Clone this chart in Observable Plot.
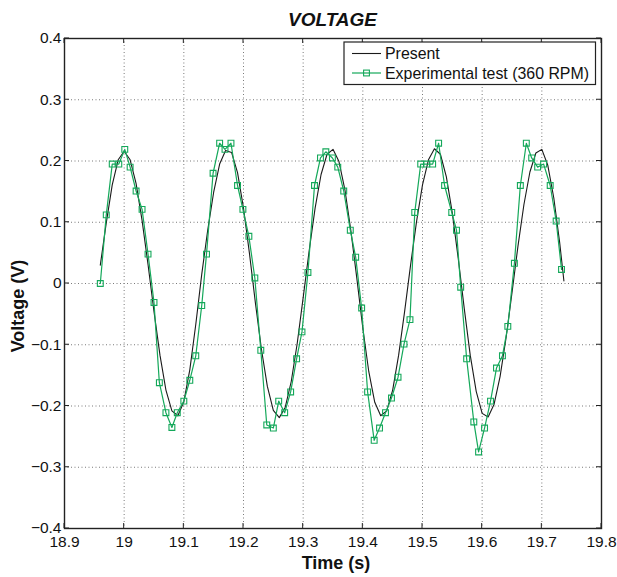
<!DOCTYPE html>
<html>
<head>
<meta charset="utf-8">
<script src="https://cdn.jsdelivr.net/npm/d3@7"></script>
<script src="https://cdn.jsdelivr.net/npm/@observablehq/plot@0.6"></script>
<style>
  html, body { margin: 0; padding: 0; background: #fff; }
  svg { font-family: "Liberation Sans", Arial, Helvetica, sans-serif; }
</style>
</head>
<body>
<div id="chart"></div>
<script>
// ---- tick definitions ----
const xTicks = [18.9, 19.0, 19.1, 19.2, 19.3, 19.4, 19.5, 19.6, 19.7, 19.8];
const xTickLabels = ["18.9", "19", "19.1", "19.2", "19.3", "19.4", "19.5", "19.6", "19.7", "19.8"];
const yTicks = [-0.4, -0.3, -0.2, -0.1, 0, 0.1, 0.2, 0.3, 0.4];
const yTickLabels = ["\u22120.4", "\u22120.3", "\u22120.2", "\u22120.1", "0", "0.1", "0.2", "0.3", "0.4"];

// ---- texts ----
const titleText = "VOLTAGE";
const xLabel = "Time (s)";
const yLabel = "Voltage (V)";
const seriesNames = ["Present", "Experimental test (360 RPM)"];

// ---- series: Present (model) ----
const presentTime = [18.96, 18.97, 18.98, 18.99, 19.00, 19.01, 19.02, 19.03, 19.04, 19.05,
  19.06, 19.07, 19.08, 19.09, 19.10, 19.11, 19.12, 19.13, 19.14, 19.15,
  19.16, 19.17, 19.18, 19.19, 19.20, 19.21, 19.22, 19.23, 19.24, 19.25,
  19.26, 19.27, 19.28, 19.29, 19.30, 19.31, 19.32, 19.33, 19.34, 19.35,
  19.36, 19.37, 19.38, 19.39, 19.40, 19.41, 19.42, 19.43, 19.44, 19.45,
  19.46, 19.47, 19.48, 19.49, 19.50, 19.51, 19.52, 19.53, 19.54, 19.55,
  19.56, 19.57, 19.58, 19.59, 19.60, 19.61, 19.62, 19.63, 19.64, 19.65,
  19.66, 19.67, 19.68, 19.69, 19.70, 19.71, 19.72, 19.73, 19.737];
const presentVoltage = [0.030, 0.099, 0.161, 0.202, 0.216, 0.202, 0.163, 0.103, 0.031, -0.046,
  -0.117, -0.174, -0.208, -0.216, -0.193, -0.141, -0.067, 0.015, 0.087, 0.149,
  0.195, 0.217, 0.214, 0.181, 0.123, 0.049, -0.032, -0.107, -0.168, -0.207,
  -0.219, -0.202, -0.160, -0.098, -0.023, 0.053, 0.123, 0.178, 0.211, 0.219,
  0.199, 0.153, 0.086, 0.008, -0.073, -0.144, -0.194, -0.216, -0.208, -0.174,
  -0.117, -0.046, 0.030, 0.101, 0.161, 0.202, 0.220, 0.211, 0.174, 0.115,
  0.040, -0.041, -0.117, -0.176, -0.212, -0.218, -0.197, -0.152, -0.089, -0.015,
  0.061, 0.129, 0.182, 0.213, 0.219, 0.193, 0.140, 0.066, 0.004];

// ---- series: Experimental test (360 RPM) ----
const expTime = [18.960, 18.970, 18.980, 18.991, 19.001, 19.010, 19.020, 19.030, 19.040, 19.050,
  19.059, 19.070, 19.080, 19.089, 19.100, 19.110, 19.120, 19.130, 19.138, 19.149,
  19.160, 19.169, 19.179, 19.190, 19.199, 19.209, 19.219, 19.229, 19.239, 19.250,
  19.259, 19.269, 19.279, 19.289, 19.298, 19.308, 19.319, 19.329, 19.338, 19.349,
  19.358, 19.368, 19.379, 19.388, 19.398, 19.408, 19.419, 19.428, 19.438, 19.448,
  19.459, 19.469, 19.479, 19.487, 19.497, 19.507, 19.517, 19.527, 19.537, 19.549,
  19.557, 19.564, 19.574, 19.586, 19.594, 19.604, 19.614, 19.624, 19.634, 19.643,
  19.654, 19.664, 19.674, 19.683, 19.693, 19.703, 19.714, 19.724, 19.733];
const expVoltage = [0.000, 0.112, 0.195, 0.195, 0.219, 0.190, 0.151, 0.121, 0.048, -0.031,
  -0.162, -0.211, -0.235, -0.211, -0.192, -0.158, -0.118, -0.036, 0.048, 0.180,
  0.229, 0.219, 0.229, 0.160, 0.121, 0.077, 0.009, -0.109, -0.231, -0.236,
  -0.192, -0.211, -0.177, -0.123, -0.079, 0.018, 0.160, 0.205, 0.215, 0.205,
  0.190, 0.151, 0.087, 0.043, -0.040, -0.177, -0.256, -0.236, -0.211, -0.187,
  -0.153, -0.099, -0.059, 0.116, 0.195, 0.195, 0.195, 0.229, 0.160, 0.116,
  0.087, -0.006, -0.123, -0.226, -0.275, -0.236, -0.192, -0.138, -0.118, -0.070,
  0.033, 0.160, 0.229, 0.205, 0.190, 0.195, 0.160, 0.102, 0.023];

// ---- build tables ----
const present = presentTime.map((t, i) => ({t, v: presentVoltage[i]}));
const experimental = expTime.map((t, i) => ({t, v: expVoltage[i]}));

const green = "#14a85a";
const black = "#1a1a1a";
const W = 617, H = 577;
const mL = 64, mR = 16, mT = 38, mB = 49;

const plot = Plot.plot({
  width: W,
  height: H,
  marginLeft: mL,
  marginRight: mR,
  marginTop: mT,
  marginBottom: mB,
  style: {background: "#fff", fontFamily: "'Liberation Sans', Arial, sans-serif", fontSize: "15.5px", color: "#111"},
  x: {domain: [18.9, 19.8], label: null},
  y: {domain: [-0.4, 0.4], label: null},
  marks: [
    Plot.gridX(xTicks.slice(1, -1), {stroke: "#7a7a7a", strokeOpacity: 1, strokeWidth: 1, strokeDasharray: "1,2.5"}),
    Plot.gridY(yTicks.slice(1, -1), {stroke: "#7a7a7a", strokeOpacity: 1, strokeWidth: 1, strokeDasharray: "1,2.5"}),
    Plot.axisX(xTicks, {anchor: "bottom", tickSize: 0, tickPadding: 7, fontSize: 15.5, tickFormat: d => xTickLabels[xTicks.indexOf(d)], label: null}),
    Plot.axisY(yTicks, {anchor: "left", tickSize: 0, tickPadding: 3, fontSize: 15.5, tickFormat: d => yTickLabels[yTicks.indexOf(d)], label: null}),
    Plot.line(present, {x: "t", y: "v", stroke: black, strokeWidth: 1.1}),
    Plot.line(experimental, {x: "t", y: "v", stroke: green, strokeWidth: 1.2}),
    Plot.dot(experimental, {x: "t", y: "v", symbol: "square", r: 3.3, stroke: green, strokeWidth: 1.1, fill: "none"}),
    Plot.frame({stroke: "#222", strokeWidth: 1.4})
  ]
});

document.getElementById("chart").appendChild(plot);

// ---- decorations via the plot's own scales ----
const sx = plot.scale("x"), sy = plot.scale("y");
const svg = d3.select(plot);
const x0 = sx.apply(18.9), x1 = sx.apply(19.8);
const y0 = sy.apply(-0.4), y1 = sy.apply(0.4);
const tl = 5;
const tg = svg.append("g").attr("stroke", "#222").attr("stroke-width", 1);
xTicks.forEach(v => {
  const px = sx.apply(v);
  tg.append("line").attr("x1", px).attr("x2", px).attr("y1", y0).attr("y2", y0 - tl);
  tg.append("line").attr("x1", px).attr("x2", px).attr("y1", y1).attr("y2", y1 + tl);
});
yTicks.forEach(v => {
  const py = sy.apply(v);
  tg.append("line").attr("y1", py).attr("y2", py).attr("x1", x0).attr("x2", x0 + tl);
  tg.append("line").attr("y1", py).attr("y2", py).attr("x1", x1).attr("x2", x1 - tl);
});

// title
svg.append("text").attr("x", (x0 + x1) / 2).attr("y", 26).attr("text-anchor", "middle")
  .attr("font-size", 19).attr("font-weight", "bold").attr("font-style", "italic").attr("fill", "#111")
  .text(titleText);
// x label
svg.append("text").attr("x", 336).attr("y", 569).attr("text-anchor", "middle")
  .attr("font-size", 18).attr("font-weight", "bold").attr("fill", "#111").text(xLabel);
// y label
svg.append("text").attr("transform", `translate(24,306) rotate(-90)`).attr("text-anchor", "middle")
  .attr("font-size", 18).attr("font-weight", "bold").attr("fill", "#111").text(yLabel);

// legend
const lg = svg.append("g").attr("text-anchor", "start");
lg.append("rect").attr("x", 344).attr("y", 42).attr("width", 251.5).attr("height", 42.5)
  .attr("fill", "#fff").attr("stroke", "#222").attr("stroke-width", 1.2);
lg.append("line").attr("x1", 352).attr("x2", 381).attr("y1", 53.5).attr("y2", 53.5)
  .attr("stroke", black).attr("stroke-width", 1.1);
lg.append("line").attr("x1", 352).attr("x2", 381).attr("y1", 73).attr("y2", 73)
  .attr("stroke", green).attr("stroke-width", 1.2);
lg.append("rect").attr("x", 366.5 - 2.9).attr("y", 73 - 2.9).attr("width", 5.8).attr("height", 5.8)
  .attr("fill", "none").attr("stroke", green).attr("stroke-width", 1.1);
lg.append("text").attr("x", 385).attr("y", 59).attr("text-anchor", "start").attr("font-size", 15.9).attr("fill", "#111").text(seriesNames[0]);
lg.append("text").attr("x", 385).attr("y", 79).attr("text-anchor", "start").attr("font-size", 15.9).attr("fill", "#111").text(seriesNames[1]);
</script>
</body>
</html>
